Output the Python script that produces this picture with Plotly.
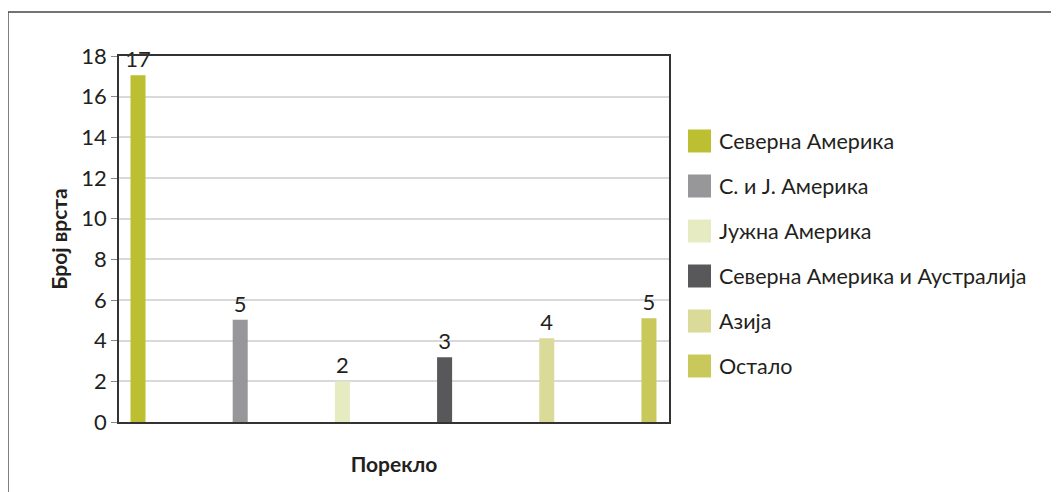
import plotly.graph_objects as go

categories = ["Северна Америка", "С. и Ј. Америка", "Јужна Америка",
              "Северна Америка и Аустралија", "Азија", "Остало"]
values = [17.05, 5.03, 2.0, 3.18, 4.12, 5.1]
value_labels = ["17", "5", "2", "3", "4", "5"]
colors = ["#BDBF32", "#97979A", "#E6EBC1", "#58585A", "#DADB98", "#C8C95A"]
y_ticks = [0, 2, 4, 6, 8, 10, 12, 14, 16, 18]

FONT = "Lato"
TXT = "#231f20"

# page body adds an 8px offset; work in page pixels and convert
OFF = 8
W, H = 1059 - OFF, 492 - OFF
L, R, T, B = 119 - OFF, 390, 56 - OFF, 70


def px_x(x):
    return (x - OFF - L) / (W - L - R)


def px_y(y):
    return 1 - (y - OFF - T) / (H - T - B)


fig = go.Figure()
for i, (cat, v, lab, c) in enumerate(zip(categories, values, value_labels, colors)):
    fig.add_trace(go.Bar(
        x=[i], y=[v], name=cat, width=0.147,
        marker=dict(color=c, line=dict(width=0)),
        text=[lab], textposition="outside", cliponaxis=False,
        constraintext="none",
        textfont=dict(family=FONT, size=22, color=TXT),
        showlegend=False,
    ))

shapes = []
annotations = []
# custom legend built from the category list
for i, (cat, c) in enumerate(zip(categories, colors)):
    cy = 141 + 45 * i
    shapes.append(dict(type="rect", xref="paper", yref="paper",
                       x0=px_x(688), x1=px_x(711),
                       y0=px_y(cy + 11.5), y1=px_y(cy - 11.5),
                       fillcolor=c, line=dict(width=0)))
    annotations.append(dict(xref="paper", yref="paper",
                            x=px_x(717), y=px_y(cy),
                            text=cat, showarrow=False,
                            xanchor="left", yanchor="middle",
                            font=dict(family=FONT, size=21.5, color=TXT)))

# outer frame (top and left edges)
shapes.append(dict(type="line", xref="paper", yref="paper",
                   x0=px_x(8), x1=px_x(1070), y0=px_y(12), y1=px_y(12),
                   line=dict(color="#444444", width=1.5)))
shapes.append(dict(type="line", xref="paper", yref="paper",
                   x0=px_x(8), x1=px_x(8), y0=px_y(12), y1=px_y(500),
                   line=dict(color="#555555", width=1.5)))

fig.update_layout(
    width=W, height=H,
    margin=dict(l=L, r=R, t=T, b=B),
    paper_bgcolor="white", plot_bgcolor="white",
    barmode="overlay",
    shapes=shapes, annotations=annotations,
    font=dict(family=FONT, color=TXT),
    xaxis=dict(range=[-0.186, 5.196], showticklabels=False, ticks="",
               showgrid=False, zeroline=False,
               showline=True, linecolor="#333333", linewidth=1.5, mirror=True,
               title=dict(text="<b>Порекло</b>", standoff=35,
                          font=dict(family=FONT, size=21, color=TXT))),
    yaxis=dict(range=[0, 18], tickvals=y_ticks, ticks="outside", ticklen=6,
               tickcolor="#888888", tickwidth=1,
               tickfont=dict(family=FONT, size=22, color=TXT),
               showgrid=True, gridcolor="#d9d9d9", gridwidth=1.5,
               zeroline=False,
               showline=True, linecolor="#333333", linewidth=1.5, mirror=True,
               title=dict(text="<b>Број врста</b>", standoff=8,
                          font=dict(family=FONT, size=21, color=TXT))),
)

fig.write_html("out.html")
